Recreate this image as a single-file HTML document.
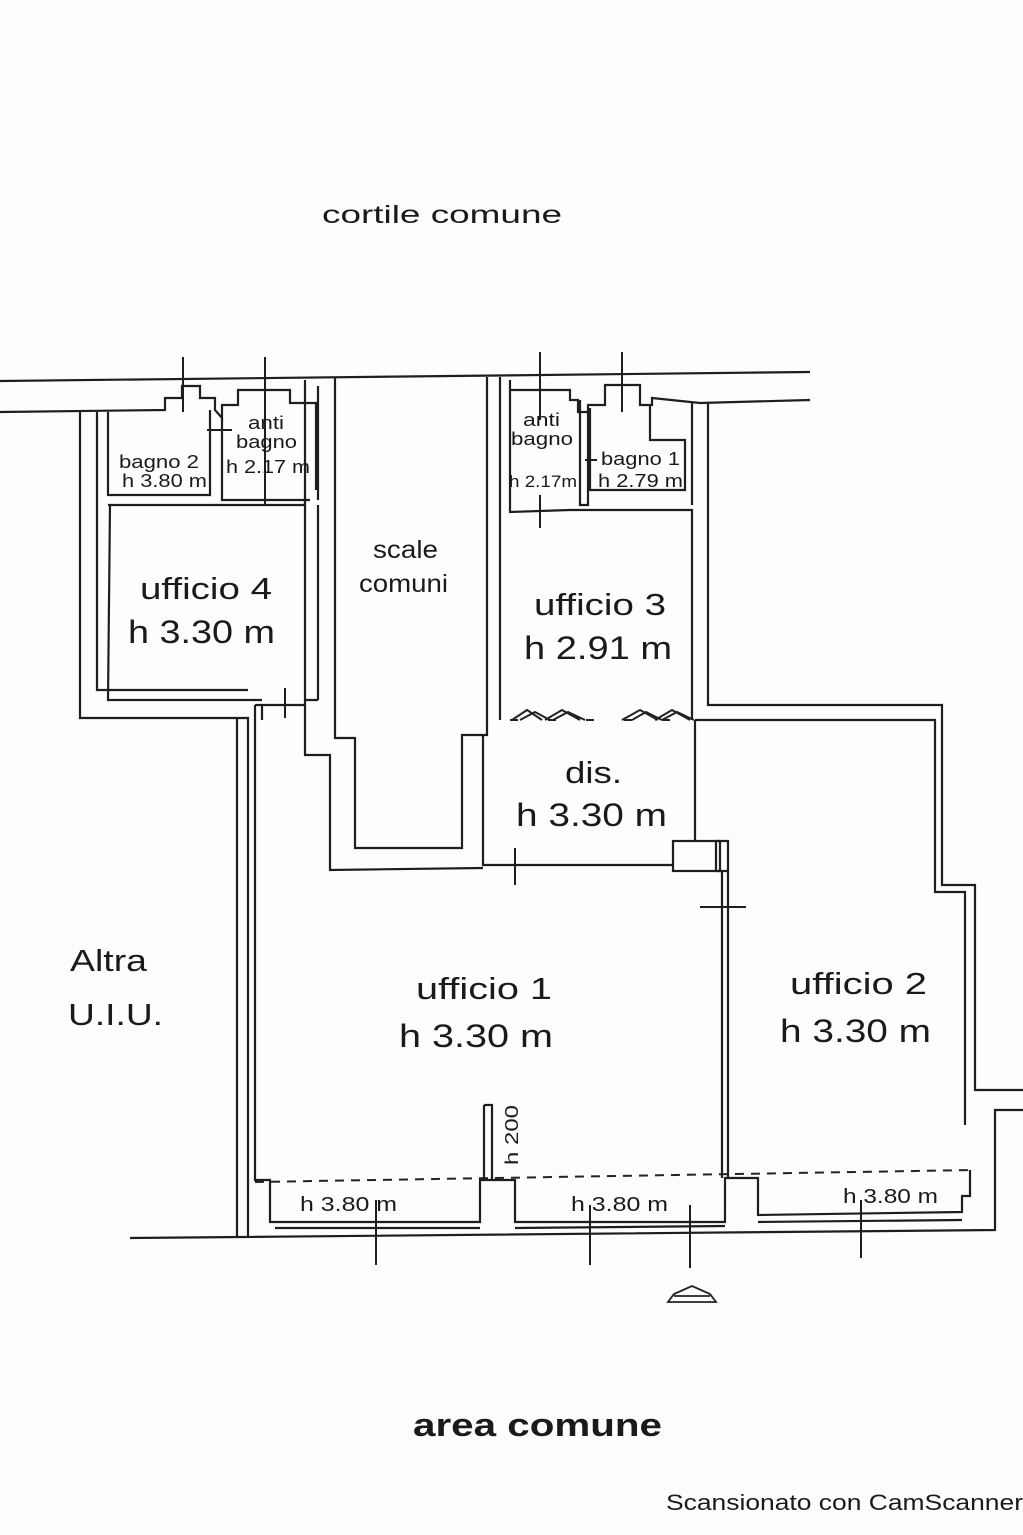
<!DOCTYPE html>
<html><head><meta charset="utf-8"><style>
html,body{margin:0;padding:0;background:#fdfdfd;}
svg{display:block}
text{font-family:"Liberation Sans",sans-serif;fill:#1a1a1a}
.b{font-weight:bold}
</style></head><body>
<svg width="1023" height="1535" viewBox="0 0 1023 1535" xmlns="http://www.w3.org/2000/svg">
<g fill="none" stroke="#1e1e1e" stroke-width="2.2">
<path d="M0 381 L810 372"/>
<path d="M0 412 L165 410 L165 398 L182 398 L182 386 L200 386 L200 398 L215 398 L215 410 L222 418 L222 405 L238 405 L238 390 L290 390 L290 403 L316 403 L316 490"/>
<path d="M510 390 L570 390 L570 400 L578 400 L578 412 L588 412 L588 405 L605 405 L605 385 L640 385 L640 405 L652 405 L652 398 L700 403 L810 400"/>
<path d="M97 412 L97 690 L248 690"/>
<path d="M80 412 L80 718 L248 718 L248 1238"/>
<path d="M108 412 L108 495 L210 495 L210 410"/>
<path d="M222 418 L222 500 L310 500"/>
<path d="M110 505 L108 700 L262 700"/>
<path d="M108 505 L305 505 L305 500"/>
<path d="M262 705 L262 720"/>
<path d="M237 718 L237 1238"/>
<path d="M255 705 L305 705"/>
<path d="M255 705 L255 1180 L270 1180 L270 1222 L480 1222 L480 1180 L515 1180 L515 1222 L725 1222 L725 1178 L758 1178 L758 1215 L962 1212 L962 1196 L970 1196 L970 1170"/>
<path d="M305 380 L305 755 L330 755 L330 870 L483 868"/>
<path d="M318 386 L318 500 M318 505 L318 700 M318 700 L305 700"/>
<path d="M335 378 L335 738 L355 738 L355 848 L462 848 L462 735 L487 735 L487 377"/>
<path d="M500 377 L500 720"/>
<path d="M510 380 L510 512 L570 510 L692 510 L692 720"/>
<path d="M580 400 L580 505 L588 505 L588 412"/>
<path d="M590 408 L590 490 L685 490 L685 440 L650 440 L650 405"/>
<path d="M692 403 L692 505"/>
<path d="M708 403 L708 705 L942 705 L942 885 L975 885 L975 1090 L1023 1090"/>
<path d="M695 720 L935 720 L935 892 L965 892 L965 1125"/>
<path d="M1023 1110 L995 1110 L995 1230 L130 1238"/>
<path d="M275 1228 L480 1228 M515 1228 L725 1226 M758 1222 L962 1220"/>
<path d="M483 735 L483 865 L672 865"/>
<path d="M695 720 L695 840"/>
<rect x="673" y="841" width="47" height="30"/>
<rect x="716" y="841" width="12" height="30"/>
<path d="M722 871 L722 1178 M728 871 L728 1178"/>
<path d="M484 1105 L492 1105 L492 1180 M484 1105 L484 1180"/>
</g>
<path d="M255 1182 L975 1170" stroke="#222" stroke-width="2" stroke-dasharray="9,7" fill="none"/>
<path d="M510 720 L692 720" stroke="#222" stroke-width="2" stroke-dasharray="8,30" fill="none"/>
<g fill="none" stroke="#222" stroke-width="2">
<path d="M512 720 L527 710 L542 720 M520 720 L535 712 L550 720"/>
<path d="M545 720 L562 710 L580 720 M553 720 L568 712 L585 720"/>
<path d="M622 720 L640 710 L658 720 M632 720 L646 712 L662 720"/>
<path d="M655 720 L672 710 L690 720 M662 720 L677 712 L694 720"/>
</g>
<g stroke="#1e1e1e" stroke-width="2">
<path d="M183 357 L183 412 M265 357 L265 505 M540 352 L540 420 M622 352 L622 412"/>
<path d="M207 430 L232 430 M597 460 L585 460 M540 495 L540 528"/>
<path d="M285 688 L285 718 M515 848 L515 885"/>
<path d="M700 907 L746 907"/>
<path d="M376 1200 L376 1265 M590 1205 L590 1265 M690 1205 L690 1268 M861 1200 L861 1258"/>
</g>
<path d="M668 1302 L716 1302 L710 1294 L692 1286 L674 1294 Z M674 1296 L710 1296" fill="none" stroke="#222" stroke-width="1.8"/>
<g lengthAdjust="spacingAndGlyphs">
<text x="322" y="223" font-size="25" textLength="240" lengthAdjust="spacingAndGlyphs">cortile  comune</text>
<text x="413" y="1436" font-size="32" class="b" textLength="249" lengthAdjust="spacingAndGlyphs">area  comune</text>
<text x="666" y="1510" font-size="22" textLength="357" lengthAdjust="spacingAndGlyphs">Scansionato con CamScanner</text>
<text x="140" y="599" font-size="31" class="b" textLength="132" lengthAdjust="spacingAndGlyphs" style="font-weight:normal">ufficio 4</text>
<text x="128" y="643" font-size="32" textLength="147" lengthAdjust="spacingAndGlyphs">h 3.30 m</text>
<text x="373" y="558" font-size="25" textLength="65" lengthAdjust="spacingAndGlyphs">scale</text>
<text x="359" y="592" font-size="25" textLength="89" lengthAdjust="spacingAndGlyphs">comuni</text>
<text x="534" y="615" font-size="31" textLength="132" lengthAdjust="spacingAndGlyphs">ufficio 3</text>
<text x="524" y="659" font-size="32" textLength="148" lengthAdjust="spacingAndGlyphs">h 2.91 m</text>
<text x="565" y="783" font-size="31" textLength="57" lengthAdjust="spacingAndGlyphs">dis.</text>
<text x="516" y="826" font-size="32" textLength="151" lengthAdjust="spacingAndGlyphs">h 3.30 m</text>
<text x="416" y="999" font-size="31" textLength="136" lengthAdjust="spacingAndGlyphs">ufficio 1</text>
<text x="399" y="1047" font-size="32" textLength="154" lengthAdjust="spacingAndGlyphs">h 3.30 m</text>
<text x="790" y="994" font-size="31" textLength="137" lengthAdjust="spacingAndGlyphs">ufficio 2</text>
<text x="780" y="1042" font-size="32" textLength="151" lengthAdjust="spacingAndGlyphs">h 3.30 m</text>
<text x="70" y="971" font-size="31" textLength="77" lengthAdjust="spacingAndGlyphs">Altra</text>
<text x="68" y="1025" font-size="31" textLength="95" lengthAdjust="spacingAndGlyphs">U.I.U.</text>
<text x="248" y="429" font-size="18" textLength="36" lengthAdjust="spacingAndGlyphs">anti</text>
<text x="236" y="448" font-size="18" textLength="61" lengthAdjust="spacingAndGlyphs">bagno</text>
<text x="226" y="473" font-size="18" textLength="84" lengthAdjust="spacingAndGlyphs">h 2.17 m</text>
<text x="119" y="468" font-size="18" textLength="80" lengthAdjust="spacingAndGlyphs">bagno 2</text>
<text x="122" y="487" font-size="18" textLength="85" lengthAdjust="spacingAndGlyphs">h 3.80 m</text>
<text x="523" y="426" font-size="18" textLength="37" lengthAdjust="spacingAndGlyphs">anti</text>
<text x="511" y="445" font-size="18" textLength="62" lengthAdjust="spacingAndGlyphs">bagno</text>
<text x="509" y="487" font-size="17" textLength="68" lengthAdjust="spacingAndGlyphs">h 2.17m</text>
<text x="601" y="465" font-size="18" textLength="79" lengthAdjust="spacingAndGlyphs">bagno 1</text>
<text x="598" y="487" font-size="18" textLength="85" lengthAdjust="spacingAndGlyphs">h 2.79 m</text>
<text x="300" y="1211" font-size="20" textLength="97" lengthAdjust="spacingAndGlyphs">h 3.80 m</text>
<text x="571" y="1211" font-size="20" textLength="97" lengthAdjust="spacingAndGlyphs">h 3.80 m</text>
<text x="843" y="1203" font-size="20" textLength="95" lengthAdjust="spacingAndGlyphs">h 3.80 m</text>
<text transform="translate(518,1165) rotate(-90)" font-size="18" textLength="60" lengthAdjust="spacingAndGlyphs">h 200</text>
</g>
</svg>
</body></html>
